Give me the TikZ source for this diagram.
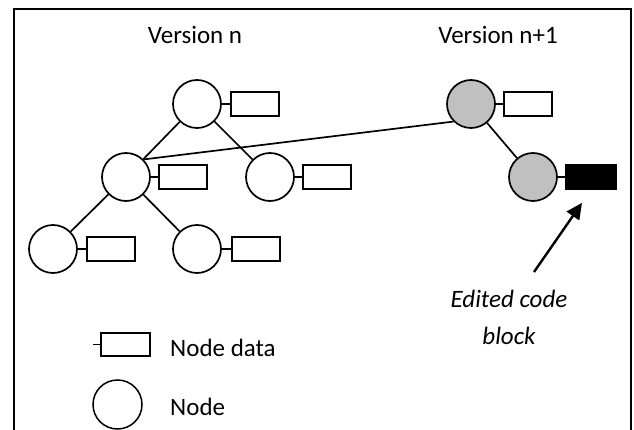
\documentclass[tikz,border=0pt]{standalone}
\usepackage{fontspec}
\setmainfont{Carlito}
\usetikzlibrary{arrows.meta,calc}
\definecolor{nodegray}{HTML}{C0C0C0}
\tikzset{
  treenode/.style={circle, draw, line width=1.7pt, minimum size=48pt, inner sep=0pt},
  newnode/.style={treenode, fill=nodegray},
  databox/.style={rectangle, draw, line width=1.7pt, minimum width=48pt, minimum height=24pt, inner sep=0pt},
  editbox/.style={databox, fill=black, minimum width=50pt, minimum height=25pt},
  edge/.style={line width=1.7pt},
  label/.style={inner sep=0pt, font=\fontsize{25}{30}\selectfont},
}
\begin{document}
\begin{tikzpicture}[x=1pt, y=-1pt]
\useasboundingbox (0,0) rectangle (634,430);
% open frame
\draw[line width=1.6pt] (14,431) -- (14,9) -- (631,9) -- (631,431);

% headings
\node[label, anchor=base] (hn) at (195,44) {Version n};
\node[label, anchor=base] (hn1) at (498,44) {Version n+1};

% version n
\node[treenode] (r) at (197,104) {};
\node[treenode] (ml) at (126,177) {};
\node[treenode] (mr) at (270,177) {};
\node[treenode] (bl) at (53,249) {};
\node[treenode] (bm) at (197,249) {};
\node[databox] (rd) at (255,104) {};
\node[databox] (mld) at (183,177) {};
\node[databox] (mrd) at (327,177) {};
\node[databox] (bld) at (111,249) {};
\node[databox] (bmd) at (256,249) {};

% version n+1
\node[newnode] (gt) at (471,104) {};
\node[newnode] (gb) at (533,177) {};
\node[databox] (gtd) at (528,104) {};
\node[editbox] (gbd) at (591,177) {};

% tree edges
\draw[edge] (r) -- (ml);
\draw[edge] (r) -- (mr);
\draw[edge] (ml) -- (bl);
\draw[edge] (ml) -- (bm);
\draw[edge] (gt) -- (gb);
\draw[edge] (ml.45) -- (gt.225);

% node-to-data ties
\foreach \n in {r, ml, mr, bl, bm, gt, gb}
  \draw[edge] (\n.east) -- (\n d.west);

% pointer to the edited block
\coordinate (ptail) at (534,272);
\draw[line width=2.4pt, -{Triangle[length=16pt, width=15pt]}] (ptail) -- ($(gbd.south)+(-9,12.5)$);

\node[label, anchor=base, font=\fontsize{25}{30}\selectfont\itshape] (e1) at (509,307) {Edited code};
\node[label, anchor=base, font=\fontsize{25}{30}\selectfont\itshape] (e2) at (509,344) {block};

% legend
\node[databox, minimum width=49pt, minimum height=23pt, line width=1.5pt] (ld) at (125.5,344.5) {};
\coordinate (ltick) at (93,344.5);
\draw[line width=1.3pt] (ltick) -- (ld.west);
\node[treenode, minimum size=49pt, line width=1.5pt] (ln) at (117.5,404.5) {};
\node[label, anchor=base west] (ldt) at (170,356) {Node data};
\node[label, anchor=base west] (lnt) at (170,415) {Node};
\end{tikzpicture}
\end{document}
